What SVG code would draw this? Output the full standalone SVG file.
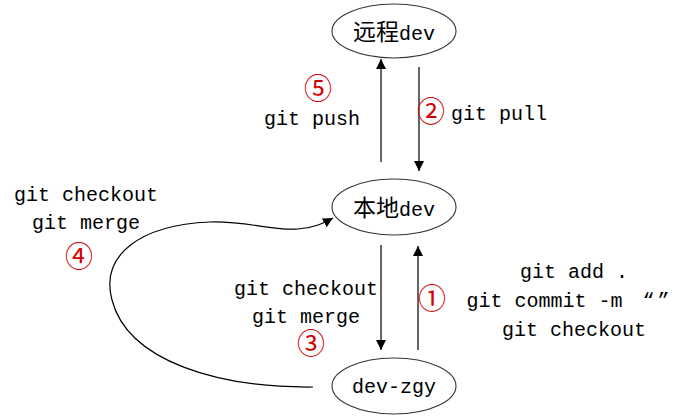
<svg xmlns="http://www.w3.org/2000/svg" width="694" height="417" viewBox="0 0 694 417">
<style>
.node ellipse{fill:#fff;stroke:#333;stroke-width:1.1}
text{font-family:"Liberation Mono","Noto Sans CJK SC",monospace;font-size:20px;fill:#000}
.cjk{font-family:"Noto Sans CJK SC",sans-serif;font-size:23px}
.num{font-family:"Noto Sans CJK SC",sans-serif;font-size:28px;fill:#d40000}
.edge{fill:none;stroke:#000;stroke-width:1.2}
.lbl{text-anchor:middle}
</style>
<defs>
<marker id="ah" viewBox="0 0 10 10" refX="10" refY="5" markerWidth="10" markerHeight="10" markerUnits="userSpaceOnUse" orient="auto">
<path d="M0,0 L10,5 L0,10 z" fill="#000"/>
</marker>
</defs>
<rect width="694" height="417" fill="#fff"/>
<g id="connectors">
<path class="edge" d="M381,162 L381,59" marker-end="url(#ah)"/>
<path class="edge" d="M419,67 L419,171" marker-end="url(#ah)"/>
<path class="edge" d="M381,245 L381,350" marker-end="url(#ah)"/>
<path class="edge" d="M418,350 L418,246" marker-end="url(#ah)"/>
<path class="edge" d="M313,387 C220,388 128,362 112,300 C100,255 140,225 210,222 C250,221 270,231 298,229 C314,228 324,223 333,218" marker-end="url(#ah)"/>
</g>
<g id="node-remote" class="node">
<ellipse cx="394" cy="31" rx="62" ry="27"/>
<text x="394" y="40" class="lbl"><tspan class="cjk">远程</tspan>dev</text>
</g>
<g id="node-local" class="node">
<ellipse cx="394" cy="207" rx="62" ry="28"/>
<text x="394" y="216" class="lbl"><tspan class="cjk">本地</tspan>dev</text>
</g>
<g id="node-zgy" class="node">
<ellipse cx="394" cy="386" rx="62" ry="28"/>
<text x="394" y="393" class="lbl">dev-zgy</text>
</g>
<g id="labels">
<text x="318" y="99" class="num lbl">⑤</text>
<text x="312" y="125" class="lbl">git push</text>
<text x="431" y="122" class="num lbl">②</text>
<text x="499" y="120" class="lbl">git pull</text>
<text x="86" y="201" class="lbl">git checkout</text>
<text x="86" y="229" class="lbl">git merge</text>
<text x="79" y="267" class="num lbl">④</text>
<text x="306" y="295" class="lbl">git checkout</text>
<text x="306" y="323" class="lbl">git merge</text>
<text x="311" y="354" class="num lbl">③</text>
<text x="432" y="309" class="num lbl">①</text>
<text x="574" y="278" class="lbl">git add .</text>
<text x="568" y="307" class="lbl">git commit -m <tspan dx="8">“</tspan><tspan dx="3">”</tspan></text>
<text x="574" y="336" class="lbl">git checkout</text>
</g>
</svg>
